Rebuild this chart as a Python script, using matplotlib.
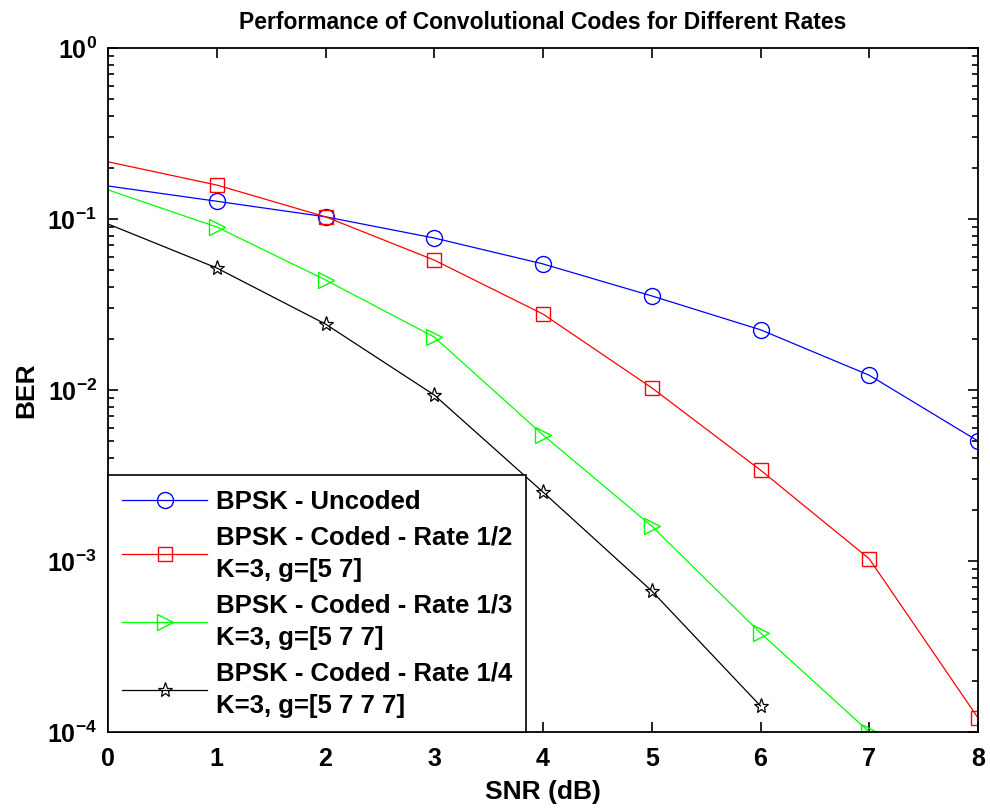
import matplotlib.pyplot as plt

plt.rcParams['font.family'] = ['Liberation Sans', 'DejaVu Sans']

snr_uncoded = [0, 1, 2, 3, 4, 5, 6, 7, 8]
ber_uncoded = [0.156, 0.127, 0.103, 0.0774, 0.0546, 0.0355, 0.0225, 0.0122, 0.00503]

snr_r12 = [0, 1, 2, 3, 4, 5, 6, 7, 8]
ber_r12 = [0.216, 0.158, 0.103, 0.0575, 0.0278, 0.0103, 0.0034, 0.00103, 0.000121]

snr_r13 = [0, 1, 2, 3, 4, 5, 6, 7]
ber_r13 = [0.148, 0.0898, 0.044, 0.0204, 0.00546, 0.0016, 0.000379, 0.0001]

snr_r14 = [0, 1, 2, 3, 4, 5, 6]
ber_r14 = [0.0935, 0.0517, 0.0243, 0.00935, 0.00253, 0.000668, 0.000142]

labels = ["BPSK - Uncoded",
          "BPSK - Coded - Rate 1/2\nK=3, g=[5 7]",
          "BPSK - Coded - Rate 1/3\nK=3, g=[5 7 7]",
          "BPSK - Coded - Rate 1/4\nK=3, g=[5 7 7 7]"]

fig = plt.figure(figsize=(9.9, 8.09), dpi=100)
ax = fig.add_axes([108/990, 1 - 732/809, 870/990, 684/809])

lw = 0.9
ax.semilogy(snr_uncoded, ber_uncoded, color='blue', lw=lw, marker='o', ms=11.5,
            mfc='none', markevery=slice(1, None), label=labels[0])
ax.semilogy(snr_r12, ber_r12, color='red', lw=lw, marker='s', ms=9.5,
            mfc='none', markevery=slice(1, None), label=labels[1])
ax.semilogy(snr_r13, ber_r13, color='#00ff00', lw=lw, marker='>', ms=12,
            mfc='none', markevery=slice(1, None), label=labels[2])
ax.semilogy(snr_r14, ber_r14, color='black', lw=lw, marker='*', ms=11,
            mfc='none', mew=0.9, markevery=slice(1, None), label=labels[3])

ax.set_xlim(0, 8)
ax.set_ylim(1e-4, 1)
ax.set_xticks(range(0, 9))
ax.tick_params(which='both', direction='in', top=True, right=True, width=1.2,
               labelsize=18)
ax.tick_params(axis='x', pad=11)
ax.tick_params(axis='y', pad=8)
ax.tick_params(which='major', length=7)
ax.tick_params(which='minor', length=4.5)
for lab in ax.get_xticklabels() + ax.get_yticklabels():
    lab.set_fontweight('bold')
for s in ax.spines.values():
    s.set_linewidth(1.3)

ax.set_xlabel("SNR (dB)", fontsize=19, fontweight='bold', labelpad=6)
ax.set_ylabel("BER", fontsize=19, fontweight='bold', labelpad=6)
ax.set_title("Performance of Convolutional Codes for Different Rates",
             fontsize=16.5, fontweight='bold', pad=14)

leg = ax.legend(loc='lower left', fontsize=18.5, fancybox=False, framealpha=1,
                edgecolor='black', borderaxespad=0, handlelength=3.3,
                handletextpad=0.35, labelspacing=0.45, borderpad=0.55)
leg.get_frame().set_linewidth(1.2)
for t in leg.get_texts():
    t.set_fontweight('bold')
    t.set_linespacing(1.45)

fig.savefig("out.png", dpi=100)
